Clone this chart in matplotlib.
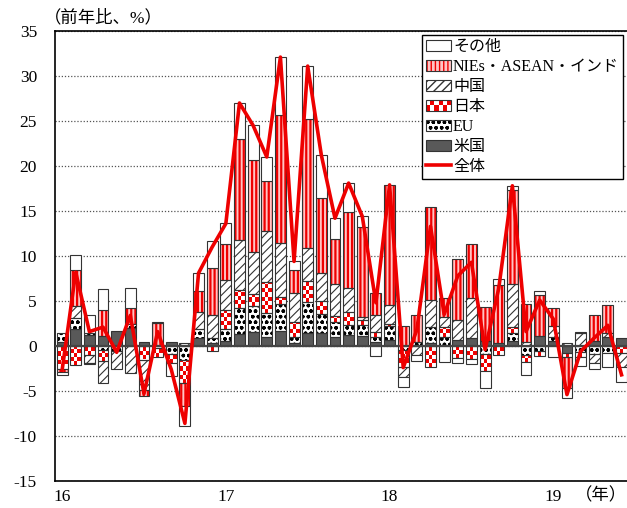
import numpy as np
import matplotlib
matplotlib.use("Agg")
import matplotlib.pyplot as plt
from matplotlib.patches import Patch, Rectangle
from matplotlib.lines import Line2D
from matplotlib.colors import ListedColormap
from matplotlib.legend_handler import HandlerBase
from matplotlib.font_manager import FontProperties

# =====================================================
# DATA (contribution to y/y change, %pt), Jan 2016 - Jun 2019
# =====================================================
year_ticks = [0, 12, 24, 36]
year_labels = ["16", "17", "18", "19"]

us = [0.5, 1.9, 1.2, 1.1, 1.7, 2.0, 0.4, 0, 0.5, 0, 0.9, 0.3,
      0.55, 1.3, 1.6, 1.0, 1.7, 0.3, 1.4, 1.4, 1.0, 1.2, 1.1, 0.5,
      0.7, 0, 0, 0.3, 0, 0.7, 0.85, 0.6, 0.3, 0.6, 0, 1.15,
      0.6, -0.8, 0, 0.6, 0.95, 0.85]
eu = [0.9, 1.2, 0.3, -0.4, -0.5, 0.5, 0, -0.2, -0.9, -1.55, 1.0, 0.55,
      1.35, 2.9, 2.8, 2.7, 3.0, 0.7, 3.5, 2.2, 1.65, 1.1, 1.2, 0.5,
      1.5, -0.4, 0.5, 1.85, 1.0, 0, 0, -0.9, 0, 0.8, -1.0, -0.6,
      0.4, 0, -0.7, -0.9, -0.75, 0]
jp = [-2.5, -2.1, -1.0, -1.3, 0, 0, -1.5, -1.0, -1.0, -2.6, 0, -0.6,
      2.1, 2.0, 1.35, 3.4, 0.8, 1.7, 2.3, 1.4, 0.65, 1.5, 0.6, 0.6,
      0.25, -1.9, 0, -2.3, 1.1, -1.3, -1.4, -1.85, -1.0, 0.7, -0.75, -0.5,
      0, -0.4, -0.5, 0, 0, -0.8]
cn = [0, 1.3, -0.9, -2.4, -2.0, -3.0, -3.4, 0, 0, 0.3, 1.9, 2.55,
      3.3, 5.6, 4.75, 5.7, 6.0, 3.15, 3.65, 3.1, 3.55, 2.7, 0.35, 1.85,
      2.15, -1.1, -1.0, 2.95, 1.1, 2.2, 4.45, 0, 0, 4.8, 0.5, 0,
      1.2, 0.3, 1.4, -1.0, 0.45, -1.5]
nie = [-0.35, 4.0, -0.1, 2.9, 0, 1.7, -0.65, 2.6, 0, -2.5, 2.3, 5.3,
       4.0, 11.2, 10.2, 5.5, 14.2, 2.6, 14.35, 8.3, 5.0, 8.4, 9.95, 2.4,
       13.3, 2.2, 3.0, 10.4, 2.1, 6.8, 6.0, 3.7, 6.5, 10.4, 4.2, 4.55,
       2.0, -3.5, 0.2, 2.8, 3.2, 0]
oth = [-0.35, 1.7, 1.9, 2.3, 0, 2.2, 0, 0.1, -1.4, -2.2, 2.0, 3.0,
       2.4, 4.0, 3.9, 2.7, 6.4, 1.05, 5.9, 4.8, 2.35, 3.2, 1.2, -1.1,
       0, -1.2, -0.7, 0, -1.8, -0.6, -0.6, -1.95, 0.6, 0.5, -1.45, 0.45,
       -1.2, -1.1, -1.0, -0.6, -1.55, -1.7]
total = [-2.7, 8.2, 1.6, 2.1, -0.7, 3.4, -5.3, 1.6, -2.6, -8.6, 8.1, 11.0,
         13.6, 27.0, 24.5, 21.0, 32.1, 9.4, 31.1, 21.2, 14.2, 18.1, 14.4, 4.8,
         17.9, -2.4, 1.8, 13.3, 3.5, 7.8, 9.3, -0.4, 6.4, 17.8, 1.6, 5.1,
         3.0, -5.4, -0.6, 0.9, 2.3, -3.2]

# =====================================================
# STYLE
# =====================================================
JP_FONT = ["Liberation Serif", "Noto Sans CJK JP"]
plt.rcParams["font.family"] = JP_FONT
plt.rcParams["axes.unicode_minus"] = False
plt.rcParams["hatch.linewidth"] = 1.0
EDGE = "#333333"
RED = "#ee0000"
NIE_FACE = "#ffc4c4"
BAR_W = 0.8
FS = 12.5
LEG_FS = 11.5

fig = plt.figure(figsize=(6.27, 5.08), dpi=100)
ax = fig.add_axes([55 / 627, 1 - 481 / 508, 572 / 627, 450 / 508])

x = np.arange(len(total))
pos_base = np.zeros(len(x))
neg_base = np.zeros(len(x))


def set_hatch_lw(patch, lw):
    if hasattr(patch, "set_hatch_linewidth"):
        patch.set_hatch_linewidth(lw)


def draw_checker(rect):
    # red / white checkerboard clipped to one bar segment
    x0, y0 = rect.get_x(), rect.get_y()
    w, h = rect.get_width(), rect.get_height()
    ybot = min(y0, y0 + h)
    cell = 0.45
    nrow = int(np.ceil(abs(h) / cell)) + 1
    arr = np.add.outer(np.arange(nrow), np.arange(3)) % 2
    im = ax.imshow(arr, cmap=ListedColormap(["white", RED]),
                   extent=(x0, x0 + w, ybot, ybot + nrow * cell),
                   origin="lower", interpolation="nearest",
                   aspect="auto", zorder=2.9)
    im.set_clip_path(rect)


def stack(vals, face, hatch=None, hatch_color=EDGE, hatch_lw=1.0,
          checker=False):
    global pos_base, neg_base
    vals = np.array(vals, dtype=float)
    bottoms = np.where(vals >= 0, pos_base, neg_base)
    keep = vals != 0
    xs, vs, bs = x[keep], vals[keep], bottoms[keep]
    if hatch:
        with plt.rc_context({"hatch.linewidth": hatch_lw}):
            bars = ax.bar(xs, vs, BAR_W, bottom=bs, color=face, hatch=hatch,
                          edgecolor=hatch_color, linewidth=0, zorder=3)
            for b in bars:
                set_hatch_lw(b, hatch_lw)
        ax.bar(xs, vs, BAR_W, bottom=bs, facecolor="none",
               edgecolor=EDGE, linewidth=0.8, zorder=3.1)
    else:
        bars = ax.bar(xs, vs, BAR_W, bottom=bs,
                      facecolor="none" if checker else face,
                      edgecolor=EDGE, linewidth=0.8, zorder=3.1)
        if checker:
            for b in bars:
                draw_checker(b)
    pos_base = pos_base + np.where(vals > 0, vals, 0)
    neg_base = neg_base + np.where(vals < 0, vals, 0)


stack(us, "#595959")
stack(eu, "white", hatch="ooo", hatch_color="black", hatch_lw=1.0)
stack(jp, "white", checker=True)
stack(cn, "white", hatch="////", hatch_color="#333333", hatch_lw=0.8)
stack(nie, NIE_FACE, hatch="||||", hatch_color=RED, hatch_lw=1.6)
stack(oth, "white")

ax.plot(x, total, color=RED, lw=2.6, zorder=5)
ax.axhline(0, color="#444444", lw=1.6, zorder=4)

# =====================================================
# AXES
# =====================================================
ax.set_xlim(-0.52, 41.4)
ax.set_ylim(-15, 35)
ax.set_yticks(range(-15, 36, 5))
ax.set_xticks(year_ticks)
ax.set_xticklabels(year_labels)
ax.tick_params(axis="both", length=0, labelsize=FS)
ax.tick_params(axis="y", pad=13)
ax.tick_params(axis="x", pad=6)
for lab in ax.get_xticklabels() + ax.get_yticklabels():
    lab.set_family("Liberation Serif")

ax.yaxis.grid(True, linestyle=(0, (1, 1.5)), color="#555555", lw=0.9)
ax.set_axisbelow(True)
for side in ["left", "bottom", "top"]:
    ax.spines[side].set_color("black")
    ax.spines[side].set_linewidth(1.2)
ax.spines["right"].set_visible(False)

fig.text(44 / 627, 1 - 18 / 508, "（前年比、%）", fontsize=FS,
         family=JP_FONT, va="center", ha="left")
fig.text(1.0, 1 - 496 / 508, "（年）", fontsize=FS,
         family=JP_FONT, va="center", ha="right")


# =====================================================
# LEGEND
# =====================================================
class CheckerHandler(HandlerBase):
    def create_artists(self, legend, orig_handle, xdescent, ydescent,
                       width, height, fontsize, trans):
        arts = []
        nx, ny = 6, 2
        for i in range(nx):
            for j in range(ny):
                c = RED if (i + j) % 2 == 0 else "white"
                arts.append(Rectangle(
                    (-xdescent + i * width / nx, -ydescent + j * height / ny),
                    width / nx, height / ny, facecolor=c,
                    edgecolor="none", transform=trans))
        arts.append(Rectangle((-xdescent, -ydescent), width, height,
                              facecolor="none", edgecolor=EDGE, lw=0.8,
                              transform=trans))
        return arts


def hatch_handle(face, hatch, hcolor, hlw):
    with plt.rc_context({"hatch.linewidth": hlw}):
        p = Patch(facecolor=face, hatch=hatch, edgecolor=hcolor, lw=0)
    set_hatch_lw(p, hlw)
    return (p, Patch(facecolor="none", edgecolor=EDGE, lw=0.8))


jp_handle = Patch(facecolor="white")
handles = [
    Patch(facecolor="white", edgecolor=EDGE, lw=0.8),
    hatch_handle(NIE_FACE, "||||", RED, 1.6),
    hatch_handle("white", "////", "#333333", 0.8),
    jp_handle,
    hatch_handle("white", "ooo", "black", 1.0),
    Patch(facecolor="#595959", edgecolor=EDGE, lw=0.8),
    Line2D([], [], color=RED, lw=2.6),
]
labels = ["その他", "NIEs・ASEAN・インド", "中国", "日本", "EU", "米国", "全体"]

leg = ax.legend(handles, labels, loc="upper right",
                bbox_to_anchor=(0.993, 0.991), borderaxespad=0,
                prop=FontProperties(family=JP_FONT, size=LEG_FS),
                handlelength=1.6, handleheight=0.7, handletextpad=0.1,
                labelspacing=0.25, borderpad=0.25, fancybox=False,
                framealpha=1, edgecolor="black",
                handler_map={jp_handle: CheckerHandler()})
leg.get_frame().set_linewidth(1.0)
leg.set_zorder(10)

fig.savefig("out.png", dpi=100)
